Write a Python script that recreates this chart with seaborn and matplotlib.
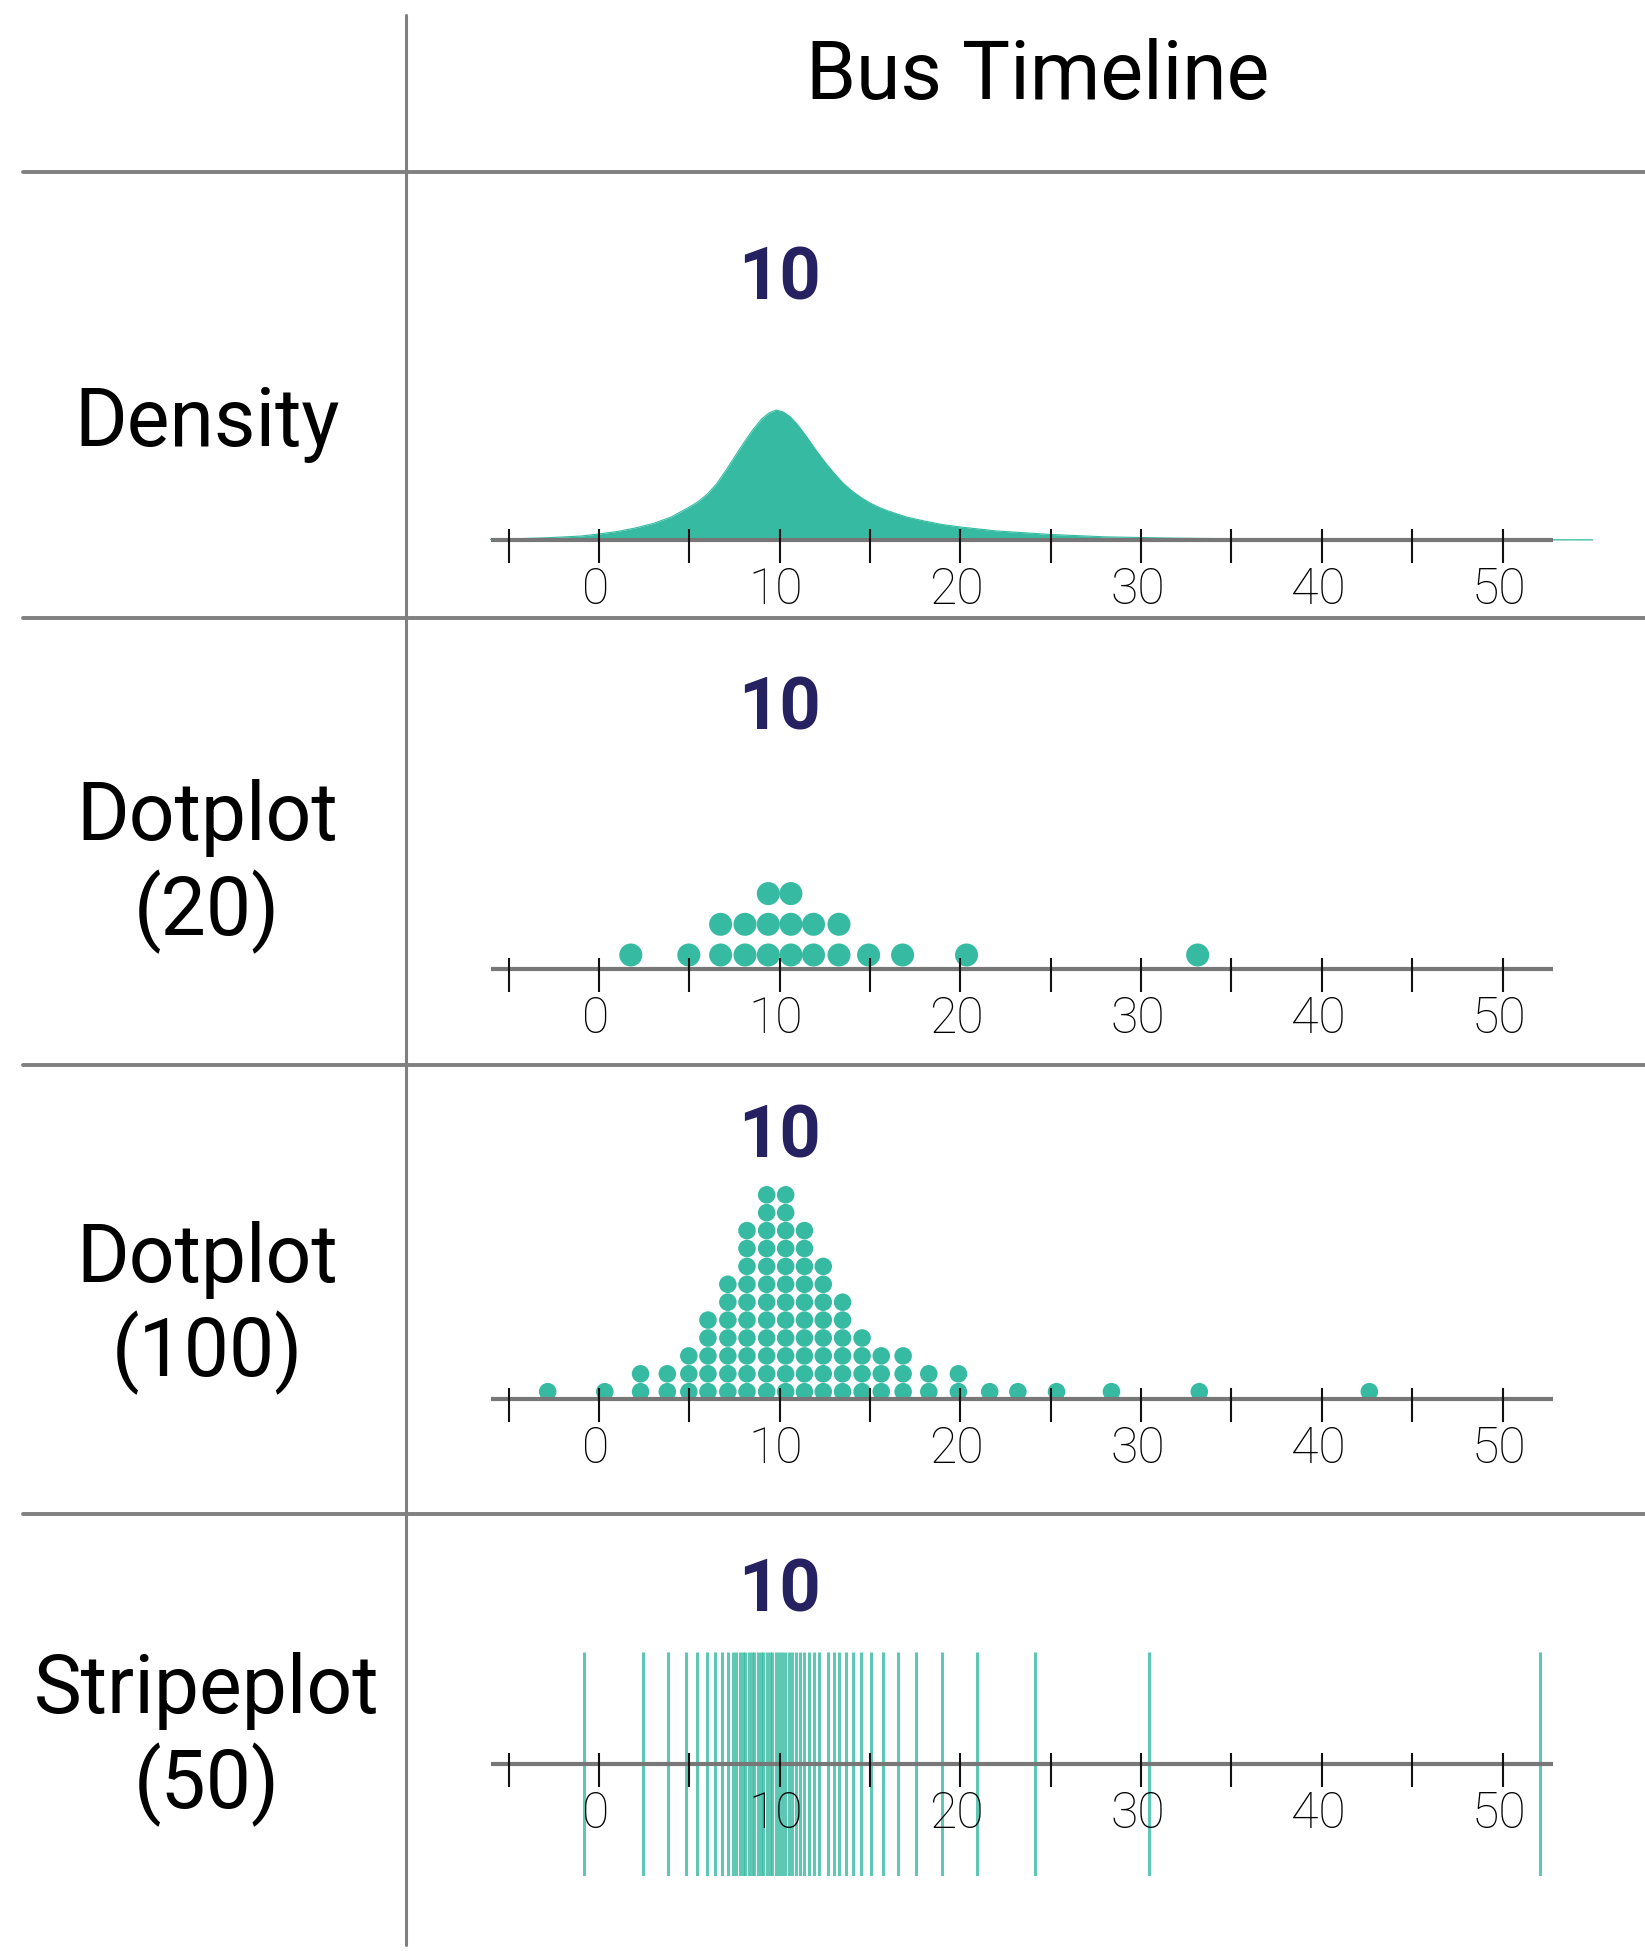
import numpy as np
import pandas as pd
import matplotlib
matplotlib.use("Agg")
import matplotlib.pyplot as plt
import seaborn as sns
from matplotlib.lines import Line2D

sns.set_style("white")
plt.rcParams['font.family'] = ['Roboto', 'DejaVu Sans']
plt.rcParams['text.color'] = 'black'

# ---- data ----
# density curve (minutes, density)
dens_x = [-6, -5, -3, -1, 0, 1, 2, 3, 4, 5, 5.5, 6, 6.5, 7, 7.5, 8, 8.5, 9, 9.4,
          9.8, 10.2, 10.6, 11, 11.5, 12, 12.5, 13, 13.5, 14, 14.5, 15, 15.5, 16,
          17, 18, 19, 20, 22, 25, 28, 32, 37, 45, 55]
dens_y = [0.0004, 0.0009, 0.0019, 0.0035, 0.0053, 0.0075, 0.0106, 0.0146,
          0.0204, 0.0292, 0.0341, 0.0407, 0.0496, 0.0611, 0.0735, 0.0858,
          0.0973, 0.1071, 0.1124, 0.1150, 0.1133, 0.1088, 0.1018, 0.0912,
          0.0796, 0.0690, 0.0593, 0.0504, 0.0434, 0.0376, 0.0327, 0.0288,
          0.0257, 0.0204, 0.0168, 0.0137, 0.0115, 0.0080, 0.0049, 0.0028,
          0.0016, 0.0008, 0.0004, 0.0002]

# dotplot (20): bin centres and number of dots in each
dot20_x = [1.76, 4.97, 6.73, 8.08, 9.37, 10.62, 11.87, 13.28, 14.92, 16.8, 20.34, 33.13]
dot20_n = [1, 1, 2, 2, 3, 3, 2, 2, 1, 1, 1, 1]

# dotplot (100)
dot100_x = [-2.84, 0.32, 2.30, 3.78, 4.97, 6.03, 7.13, 8.19, 9.28, 10.33, 11.37, 12.41,
            13.48, 14.56, 15.62, 16.83, 18.25, 19.89, 21.62, 23.18, 25.32, 28.36, 33.22, 42.63]
dot100_n = [1, 1, 2, 2, 3, 5, 7, 10, 12, 12, 10, 8, 6, 4, 3, 3, 2, 2, 1, 1, 1, 1, 1, 1]

# stripeplot (50)
stripe_x = [-0.81, 2.42, 3.83, 4.80, 5.44, 5.99, 6.44, 6.82, 7.15, 7.43,
            7.6, 7.8, 7.95, 8.1, 8.3, 8.45, 8.6, 8.8, 8.95, 9.1,
            9.3, 9.45, 9.6, 9.8, 9.95, 10.1, 10.3, 10.5, 10.7, 10.9,
            11.1, 11.35, 11.6, 11.9, 12.2, 12.69, 13.0, 13.3, 13.67, 14.07,
            14.52, 15.04, 15.72, 16.55, 17.57, 18.99, 20.92, 24.13, 30.42, 52.09]

center_value = 10
tick_pos = list(range(-5, 51, 5))
label_pos = list(range(0, 51, 10))
row_labels = [["Density"], ["Dotplot", "(20)"], ["Dotplot", "(100)"], ["Stripeplot", "(50)"]]
title = "Bus Timeline"

# ---- layout (pixels) ----
W, H = 1645, 1951
TEAL = "#36bba2"
NAVY = "#262262"
GRAY = "#808080"
X0_PX, PX_PER_MIN = 599, 18.07
COL_L = 406
xlim = ((COL_L - X0_PX) / PX_PER_MIN, (W - X0_PX) / PX_PER_MIN)


def fx(px):
    return px / W


def fy(py):
    return 1 - py / H


fig = plt.figure(figsize=(W / 100, H / 100), dpi=100)


def add_panel(top, bottom):
    ax = fig.add_axes([fx(COL_L), fy(bottom), fx(W) - fx(COL_L), (bottom - top) / H])
    ax.set_xlim(*xlim)
    ax.axis("off")
    return ax


def draw_timeline(ax, top, bottom, axis_px, label_base):
    h = bottom - top

    def frac(py):
        return (bottom - py) / h

    tr = ax.get_xaxis_transform()
    ax.plot([-6, 52.8], [frac(axis_px)] * 2, transform=tr, color="#777777",
            lw=3.0, solid_capstyle="butt", clip_on=False, zorder=5)
    ax.vlines(tick_pos, frac(axis_px + 23), frac(axis_px - 11), transform=tr,
              color="#111111", lw=1.5, clip_on=False, zorder=6)
    for v in label_pos:
        ax.text(v - 0.2, frac(axis_px + 64), str(v), transform=tr, ha="center",
                va="baseline", fontsize=36, fontweight="light", color="black",
                clip_on=False, zorder=7)
    ax.text(center_value, frac(label_base), str(center_value), transform=tr,
            ha="center", va="baseline", fontsize=52, fontweight="bold",
            color=NAVY, clip_on=False)


def dot_frame(xs, ns):
    return pd.DataFrame({
        "x": np.repeat(xs, ns),
        "level": np.concatenate([np.arange(n) for n in ns]),
    })


# density
top, bottom, axis_px = 172, 618, 540
dens_scale = 1130  # px per density unit
ax = add_panel(top, bottom)
ax.set_ylim(-(bottom - axis_px) / dens_scale, (axis_px - top) / dens_scale)
sns.lineplot(x=dens_x, y=dens_y, ax=ax, color=TEAL, lw=0.8)
ax.fill_between(dens_x, dens_y, 0, color=TEAL, lw=0)
draw_timeline(ax, top, bottom, axis_px, 300)

# dotplot 20
top, bottom, axis_px = 618, 1065, 969
step, lift = 30.7, 14
ax = add_panel(top, bottom)
ax.set_ylim((axis_px - bottom - lift) / step, (axis_px - top - lift) / step)
d20 = dot_frame(dot20_x, dot20_n)
sns.scatterplot(data=d20, x="x", y="level", ax=ax, s=275, color=TEAL,
                edgecolor="none", legend=False, zorder=3)
draw_timeline(ax, top, bottom, axis_px, 729)

# dotplot 100
top, bottom, axis_px = 1065, 1514, 1399
step, lift = 17.9, 7.3
ax = add_panel(top, bottom)
ax.set_ylim((axis_px - bottom - lift) / step, (axis_px - top - lift) / step)
d100 = dot_frame(dot100_x, dot100_n)
sns.scatterplot(data=d100, x="x", y="level", ax=ax, s=160, color=TEAL,
                edgecolor="none", legend=False, zorder=3)
draw_timeline(ax, top, bottom, axis_px, 1158)

# stripeplot 50
top, bottom, axis_px = 1652, 1876, 1764
ax = add_panel(top, bottom)
sns.rugplot(x=stripe_x, ax=ax, height=1.0, color=TEAL, linewidth=2.2,
            alpha=0.8, expand_margins=False)
ax.set_xlim(*xlim)
draw_timeline(ax, top, bottom, axis_px, 1611)

# ---- table frame and labels ----
for y in [172, 618, 1065, 1514]:
    fig.add_artist(Line2D([fx(23), 1], [fy(y), fy(y)], color=GRAY, lw=2.8))
fig.add_artist(Line2D([fx(406), fx(406)], [fy(15), fy(1945)], color=GRAY, lw=2.2))

fig.text(fx(1038), fy(99), title, ha="center", va="baseline", fontsize=58)
label_baselines = [[446], [840, 935], [1282, 1376], [1713, 1808]]
for lines, bases in zip(row_labels, label_baselines):
    for txt, b in zip(lines, bases):
        fig.text(fx(207), fy(b), txt, ha="center", va="baseline", fontsize=58)

fig.savefig("out.png", dpi=100, facecolor="white")
